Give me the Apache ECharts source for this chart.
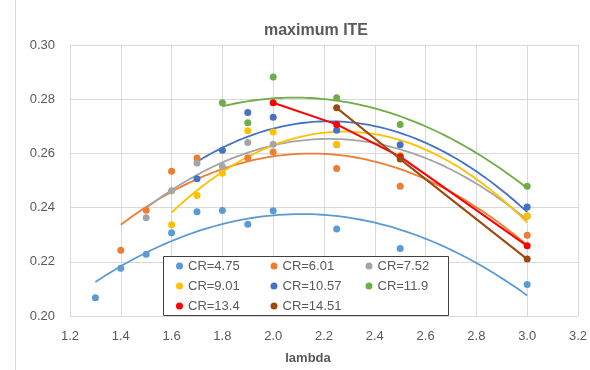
<!DOCTYPE html>
<html>
<head>
<meta charset="utf-8">
<script src="https://cdn.jsdelivr.net/npm/echarts@6/dist/echarts.min.js"></script>
<style>html,body{margin:0;padding:0;background:#fff;}#c{width:590px;height:370px;}</style>
</head>
<body>
<div id="c"></div>
<script>
// ---- data ----
const seriesNames = ['CR=4.75','CR=6.01','CR=7.52','CR=9.01','CR=10.57','CR=11.9','CR=13.4','CR=14.51'];
const colors = ['#5B9BD5','#ED7D31','#A5A5A5','#FFC000','#4472C4','#70AD47','#FF0000','#9E480E'];

const x_cr475  = [1.3, 1.4, 1.5, 1.6, 1.7, 1.8, 1.9, 2.0, 2.25, 2.5, 3.0];
const y_cr475  = [0.2067, 0.2176, 0.2228, 0.2307, 0.2385, 0.2389, 0.2339, 0.2388, 0.2321, 0.2249, 0.2116];

const x_cr601  = [1.4, 1.5, 1.6, 1.7, 1.9, 2.0, 2.25, 2.5, 3.0];
const y_cr601  = [0.2243, 0.2390, 0.2534, 0.2583, 0.2584, 0.2605, 0.2544, 0.2479, 0.2298];

const x_cr752  = [1.5, 1.6, 1.7, 1.8, 1.9, 2.0, 2.25, 2.5, 3.0];
const y_cr752  = [0.2363, 0.2462, 0.2565, 0.2552, 0.2640, 0.2634, 0.2632, 0.2590, 0.2368];

const x_cr901  = [1.6, 1.7, 1.8, 1.9, 2.0, 2.25, 2.5, 3.0];
const y_cr901  = [0.2337, 0.2445, 0.2527, 0.2684, 0.2679, 0.2634, 0.2592, 0.2370];

const x_cr1057 = [1.7, 1.8, 1.9, 2.0, 2.25, 2.5, 3.0];
const y_cr1057 = [0.2506, 0.2612, 0.2751, 0.2733, 0.2685, 0.2632, 0.2402];

const x_cr119  = [1.8, 1.9, 2.0, 2.25, 2.5, 3.0];
const y_cr119  = [0.2787, 0.2713, 0.2882, 0.2805, 0.2707, 0.2479];

const x_cr134  = [2.0, 2.25, 2.5, 3.0];
const y_cr134  = [0.2787, 0.2707, 0.2588, 0.2259];

const x_cr1451 = [2.25, 2.5, 3.0];
const y_cr1451 = [0.2768, 0.2579, 0.2210];

const xTicks = [1.2, 1.4, 1.6, 1.8, 2.0, 2.2, 2.4, 2.6, 2.8, 3.0, 3.2];
const yTicks = [0.20, 0.22, 0.24, 0.26, 0.28, 0.30];

const allX = [x_cr475, x_cr601, x_cr752, x_cr901, x_cr1057, x_cr119, x_cr134, x_cr1451];
const allY = [y_cr475, y_cr601, y_cr752, y_cr901, y_cr1057, y_cr119, y_cr134, y_cr1451];
// series shown with polynomial (order 2) trendlines vs straight connecting lines
const trendIdx = [0, 1, 2, 3, 4, 5];
const lineIdx = [6, 7];

// least-squares quadratic fit (like a spreadsheet trendline)
function quadFit(xs, ys) {
  const n = xs.length;
  let s = [0,0,0,0,0], t = [0,0,0];
  for (let i = 0; i < n; i++) {
    let p = 1;
    for (let k = 0; k <= 4; k++) { s[k] += p; if (k <= 2) t[k] += p * ys[i]; p *= xs[i]; }
  }
  const A = [[s[0], s[1], s[2], t[0]], [s[1], s[2], s[3], t[1]], [s[2], s[3], s[4], t[2]]];
  for (let c = 0; c < 3; c++) {
    let piv = c;
    for (let r = c + 1; r < 3; r++) if (Math.abs(A[r][c]) > Math.abs(A[piv][c])) piv = r;
    [A[c], A[piv]] = [A[piv], A[c]];
    for (let r = 0; r < 3; r++) {
      if (r === c) continue;
      const f = A[r][c] / A[c][c];
      for (let k = c; k < 4; k++) A[r][k] -= f * A[c][k];
    }
  }
  return [A[0][3] / A[0][0], A[1][3] / A[1][1], A[2][3] / A[2][2]];
}
function trendPoints(xs, ys) {
  const cf = quadFit(xs, ys);
  const x0 = xs[0], x1 = xs[xs.length - 1];
  const pts = [];
  const N = 80;
  for (let i = 0; i <= N; i++) {
    const x = x0 + (x1 - x0) * i / N;
    pts.push([x, cf[0] + cf[1] * x + cf[2] * x * x]);
  }
  return pts;
}
const zip = (xs, ys) => xs.map((x, i) => [x, ys[i]]);

const series = [];
trendIdx.forEach(i => {
  series.push({
    name: seriesNames[i] + ' trend', type: 'line', data: trendPoints(allX[i], allY[i]),
    showSymbol: false, symbol: 'none', silent: true, z: 2,
    lineStyle: { color: colors[i], width: 1.8 }, itemStyle: { color: colors[i] }
  });
});
seriesNames.forEach((nm, i) => {
  if (lineIdx.includes(i)) {
    series.push({
      name: nm, type: 'line', data: zip(allX[i], allY[i]), symbol: 'circle', symbolSize: 7,
      showAllSymbol: true, z: 3,
      lineStyle: { color: colors[i], width: 2 }, itemStyle: { color: colors[i] }
    });
  } else {
    series.push({
      name: nm, type: 'scatter', data: zip(allX[i], allY[i]), symbol: 'circle', symbolSize: 7, z: 3,
      itemStyle: { color: colors[i], opacity: 1 }
    });
  }
});

const txt = '#595959';
const font = 'Liberation Sans, Arial, sans-serif';
const legendCommon = {
  orient: 'vertical', icon: 'circle', itemWidth: 7, itemHeight: 7, itemGap: 6,
  top: 259, padding: 0, z: 10,
  textStyle: { color: txt, fontSize: 13, fontFamily: font, lineHeight: 14 }
};

const chart = echarts.init(document.getElementById('c'), null, { renderer: 'canvas' });
chart.setOption({
  animation: false,
  backgroundColor: '#fff',
  title: {
    text: 'maximum ITE', left: 311, top: 18, textAlign: 'center',
    textStyle: { color: txt, fontSize: 16, fontWeight: 'bold', fontFamily: font }
  },
  grid: { left: 70, right: 7, top: 45, bottom: 52, containLabel: false },
  xAxis: {
    type: 'value', min: xTicks[0], max: xTicks[xTicks.length - 1], interval: 0.2,
    axisLine: { show: true, lineStyle: { color: '#d9d9d9' } },
    axisTick: { show: false },
    splitLine: { show: true, lineStyle: { color: '#d9d9d9', width: 1 } },
    axisLabel: { color: txt, fontSize: 13, fontFamily: font, margin: 14,
      formatter: v => Number(v).toFixed(1) },
    name: 'lambda', nameLocation: 'middle', nameGap: 36,
    nameTextStyle: { color: txt, fontSize: 13, fontWeight: 'bold', fontFamily: font, padding: [0, 32, 0, 0] }
  },
  yAxis: {
    type: 'value', min: yTicks[0], max: yTicks[yTicks.length - 1], interval: 0.02,
    axisLine: { show: false },
    axisTick: { show: false },
    splitLine: { show: true, lineStyle: { color: '#d9d9d9', width: 1 } },
    axisLabel: { color: txt, fontSize: 13, fontFamily: font, margin: 15,
      formatter: v => Number(v).toFixed(2) }
  },
  legend: [
    Object.assign({}, legendCommon, { left: 176, data: [seriesNames[0], seriesNames[3], seriesNames[6]] }),
    Object.assign({}, legendCommon, { left: 270.5, data: [seriesNames[1], seriesNames[4], seriesNames[7]] }),
    Object.assign({}, legendCommon, { left: 365.5, data: [seriesNames[2], seriesNames[5]] })
  ],
  graphic: [
    { type: 'rect', z: 1, shape: { x: 163.5, y: 256.5, width: 285, height: 59 },
      style: { fill: '#fff', stroke: '#404040', lineWidth: 1 } },
    { type: 'line', z: 1, shape: { x1: 15.5, y1: 0, x2: 15.5, y2: 370 },
      style: { stroke: '#d9d9d9', lineWidth: 1 } }
  ],
  series: series
});
</script>
</body>
</html>
